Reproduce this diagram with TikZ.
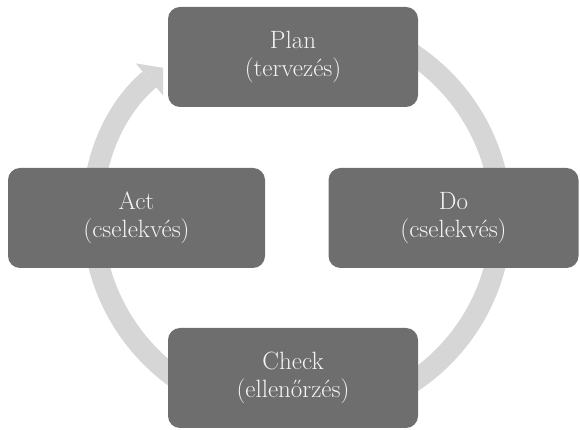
\documentclass[tikz,border=0pt]{standalone}
\usetikzlibrary{arrows.meta}
\definecolor{boxgray}{HTML}{6E6E6E}
\definecolor{ringgray}{HTML}{D6D6D6}
\definecolor{textwhite}{HTML}{F4F4F4}
\begin{document}
\begin{tikzpicture}[x=1pt,y=1pt,
  stagebox/.style={fill=boxgray, rounded corners=12pt, minimum width=250pt,
    minimum height=100pt, text=textwhite, align=center, inner sep=0pt,
    font=\fontsize{25}{28}\selectfont},
  ring/.style={draw=ringgray, line width=21pt}]
\useasboundingbox (0,0) rectangle (580,430);
\draw[ring, -{Triangle[width=42pt,length=18pt,line width=0pt]}]
  (297,212) ++(115:204pt and 199pt)
  arc[start angle=115, end angle=-229, x radius=204pt, y radius=199pt];
\node[stagebox] (plan)  at (293,373) {Plan\\(tervezés)};
\node[stagebox] (do)    at (453.5,212) {Do\\(cselekvés)};
\node[stagebox] (check) at (293,52) {Check\\(ellenőrzés)};
\node[stagebox, minimum width=257pt] (act) at (136.5,212) {Act\\(cselekvés)};
\end{tikzpicture}
\end{document}
